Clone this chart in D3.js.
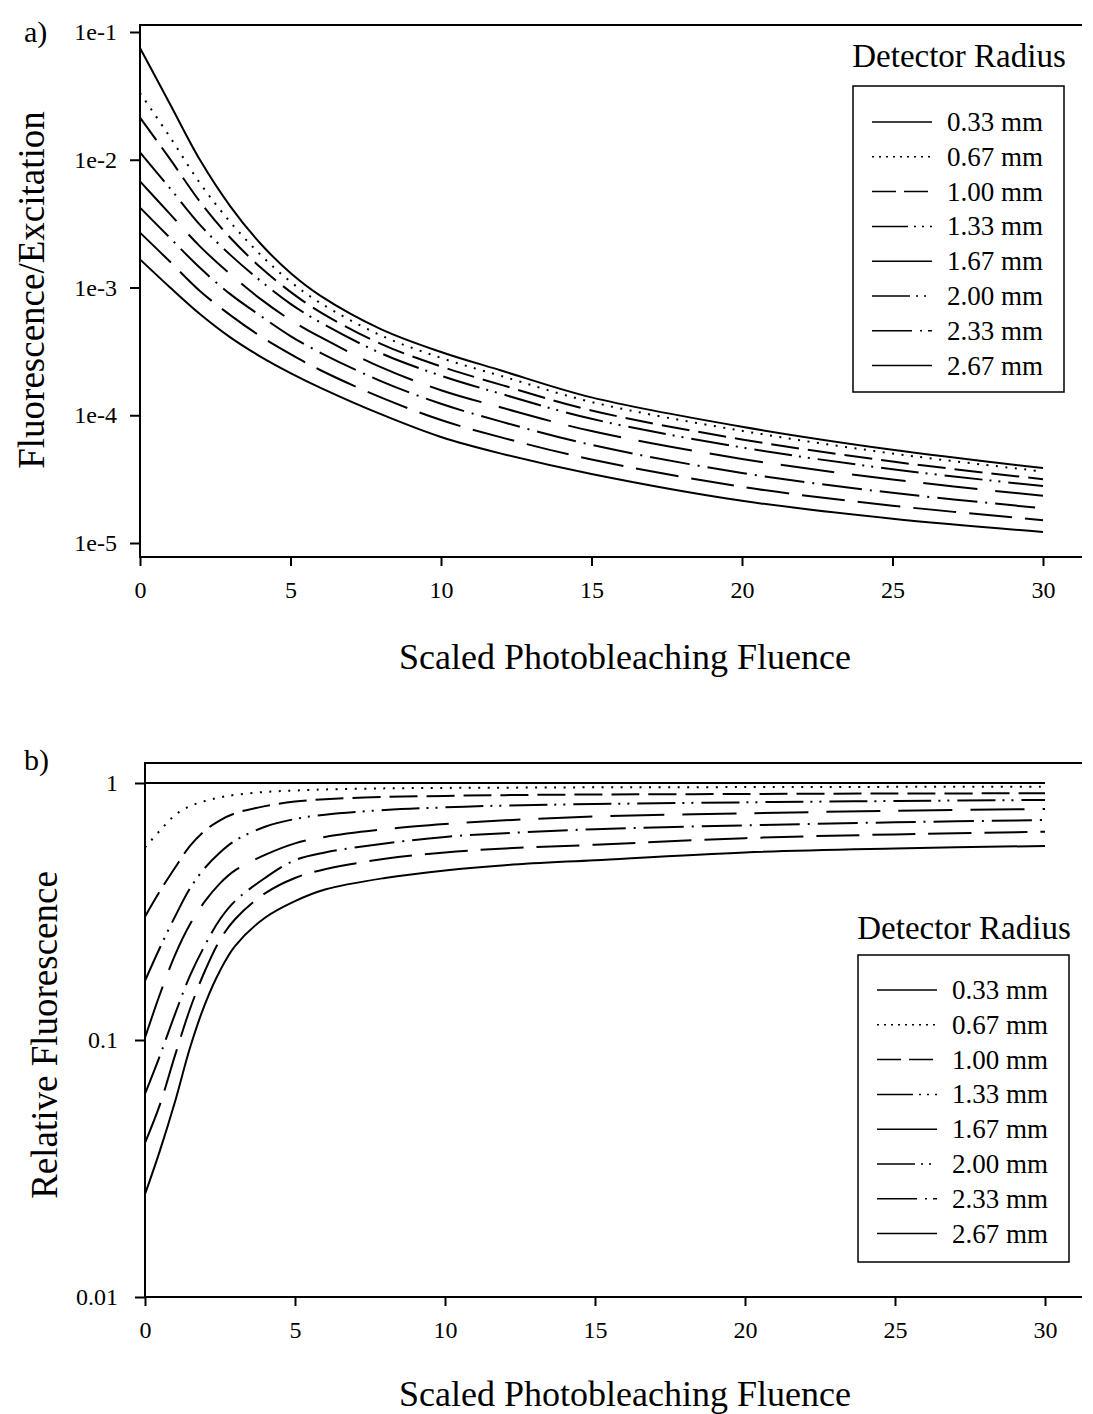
<!DOCTYPE html>
<meta charset="utf-8">
<head>
    <title>Detector Radius - Fluorescence vs Photobleaching Fluence</title>
    <style>
        body { margin: 0; background: #fff; }
        text { font-family: "Liberation Serif", "Times New Roman", serif; fill: #000; }
        .axis path { display: none; }
        .axis line { stroke: #000; stroke-width: 2; }
        .axis text { font-size: 24px; font-family: "Liberation Serif", "Times New Roman", serif; }
    </style>
</head>
<body>
<script src="https://d3js.org/d3.v7.min.js"></script>
<svg id="chart"></svg>
<script>
    // scaled photobleaching fluence where values were read
    var fluenceA = [0, 1, 2, 3, 4, 5, 6, 8, 10, 12, 15, 20, 25, 30];
    var fluenceB = [0, 0.5, 1, 1.5, 2, 2.5, 3, 4, 5, 6, 8, 10, 12, 15, 20, 25, 30];
    var radii = ["0.33 mm", "0.67 mm", "1.00 mm", "1.33 mm", "1.67 mm", "2.00 mm", "2.33 mm", "2.67 mm"];

    // a) fluorescence / excitation
    var fe033 = [0.0750, 0.0272, 0.00989, 0.00432, 0.00221, 0.00130, 0.000861, 0.000473, 0.000313, 0.000224, 0.000138, 0.0000813, 0.0000537, 0.0000386];
    var fe067 = [0.0333, 0.0150, 0.00652, 0.00325, 0.00181, 0.00111, 0.000754, 0.000422, 0.000281, 0.000203, 0.000127, 0.0000755, 0.0000502, 0.0000363];
    var fe100 = [0.0214, 0.0101, 0.00467, 0.00245, 0.00144, 0.000925, 0.000639, 0.000362, 0.000241, 0.000173, 0.000109, 0.0000647, 0.0000434, 0.0000316];
    var fe133 = [0.0114, 0.00596, 0.00308, 0.00180, 0.00113, 0.000745, 0.000532, 0.000306, 0.000204, 0.000147, 0.0000938, 0.0000560, 0.0000378, 0.0000279];
    var fe167 = [0.00678, 0.00375, 0.00209, 0.00127, 0.000815, 0.000557, 0.000408, 0.000238, 0.000157, 0.000115, 0.0000752, 0.0000455, 0.0000314, 0.0000234];
    var fe200 = [0.00422, 0.00244, 0.00142, 0.000887, 0.000601, 0.000417, 0.000308, 0.000185, 0.000123, 0.0000891, 0.0000586, 0.0000353, 0.0000247, 0.0000187];
    var fe233 = [0.00269, 0.00159, 0.000935, 0.000608, 0.000416, 0.000301, 0.000225, 0.000138, 0.0000918, 0.0000671, 0.0000451, 0.0000275, 0.0000196, 0.0000151];
    var fe267 = [0.00166, 0.00100, 0.000617, 0.000407, 0.000288, 0.000214, 0.000164, 0.000102, 0.0000676, 0.0000501, 0.0000347, 0.0000214, 0.0000155, 0.0000122];

    // b) relative fluorescence
    var rf033 = [1, 1, 1, 1, 1, 1, 1, 1, 1, 1, 1, 1, 1, 1, 1, 1, 1];
    var rf067 = [0.562, 0.653, 0.750, 0.813, 0.851, 0.879, 0.899, 0.923, 0.935, 0.944, 0.953, 0.957, 0.959, 0.962, 0.964, 0.966, 0.968];
    var rf100 = [0.302, 0.380, 0.468, 0.569, 0.653, 0.716, 0.762, 0.813, 0.847, 0.865, 0.883, 0.891, 0.897, 0.902, 0.906, 0.910, 0.912];
    var rf133 = [0.170, 0.229, 0.302, 0.389, 0.468, 0.537, 0.596, 0.676, 0.724, 0.753, 0.785, 0.804, 0.817, 0.828, 0.841, 0.851, 0.859];
    var rf167 = [0.102, 0.151, 0.214, 0.282, 0.347, 0.407, 0.457, 0.525, 0.582, 0.617, 0.661, 0.692, 0.716, 0.741, 0.762, 0.780, 0.792];
    var rf200 = [0.0617, 0.0871, 0.126, 0.178, 0.234, 0.295, 0.347, 0.427, 0.501, 0.537, 0.582, 0.617, 0.638, 0.661, 0.684, 0.703, 0.718];
    var rf233 = [0.0398, 0.0562, 0.0871, 0.132, 0.186, 0.245, 0.295, 0.372, 0.427, 0.462, 0.507, 0.537, 0.556, 0.575, 0.610, 0.631, 0.646];
    var rf267 = [0.0251, 0.0372, 0.0575, 0.0933, 0.138, 0.186, 0.232, 0.299, 0.347, 0.385, 0.427, 0.457, 0.479, 0.501, 0.537, 0.556, 0.569];

    var xTicks = [0, 5, 10, 15, 20, 25, 30];

    // line style per radius
    var dashes = [null, "2,7.5", "28,9", "38,7,2,7,2,8", "54,18", "40,8,2,8", "43,13", null];
    var legendDashes = [null, "2,5", "24,8", "36,6,2,6,2,6", null, "38,6,2,6,2,6", "40,8,2,6", null];

    var svg = d3.select("#chart").attr("width", 1093).attr("height", 1414);

    function drawPanel(p) {
        var g = svg.append("g");
        var x = d3.scaleLinear().domain([0, 30]).range(p.xr);
        var y = d3.scaleLog().domain(p.yd).range(p.yr);

        // frame: top, left, bottom
        g.append("path")
            .attr("d", "M" + p.right + "," + p.top + "H" + p.xr[0] + "V" + p.bottom + "H" + p.right)
            .attr("fill", "none").attr("stroke", "#000").attr("stroke-width", 2);

        g.append("g").attr("class", "axis")
            .attr("transform", "translate(" + p.xr[0] + ",0)")
            .call(d3.axisLeft(y).tickValues(p.yTicks).tickFormat(p.yFmt).tickSize(10).tickPadding(p.yPad));

        g.append("g").attr("class", "axis")
            .attr("transform", "translate(0," + p.bottom + ")")
            .call(d3.axisBottom(x).tickValues(xTicks).tickFormat(d3.format("d")).tickSize(9).tickPadding(15));

        var line = d3.line()
            .x(function(d) { return x(d[0]); })
            .y(function(d) { return y(d[1]); })
            .curve(d3.curveCatmullRom.alpha(0.5));

        p.series.forEach(function(vals, i) {
            var pts = p.fluence.map(function(f, j) { return [f, vals[j]]; });
            g.append("path")
                .datum(pts)
                .attr("d", line)
                .attr("fill", "none")
                .attr("stroke", "#000")
                .attr("stroke-width", 2)
                .attr("stroke-dasharray", dashes[i]);
        });

        // titles
        g.append("text")
            .attr("x", 625).attr("y", p.xTitleY)
            .attr("text-anchor", "middle").style("font-size", "36px")
            .text("Scaled Photobleaching Fluence");
        g.append("text")
            .attr("transform", "translate(" + p.yTitleX + "," + p.yTitleY + ") rotate(-90)")
            .attr("text-anchor", "middle").style("font-size", "37px")
            .text(p.yTitle);
        g.append("text")
            .attr("x", 24).attr("y", p.tagY)
            .style("font-size", "30px")
            .text(p.tag);

        // legend
        g.append("text")
            .attr("x", p.legX + 106).attr("y", p.legTitleY)
            .attr("text-anchor", "middle").style("font-size", "33px")
            .text("Detector Radius");
        g.append("rect")
            .attr("x", p.legX).attr("y", p.boxTop).attr("width", 211).attr("height", p.boxH)
            .attr("fill", "none").attr("stroke", "#000").attr("stroke-width", 1.5);
        radii.forEach(function(r, i) {
            var yy = p.rowY + i * 34.8;
            g.append("line")
                .attr("x1", p.legX + 19).attr("x2", p.legX + 79).attr("y1", yy).attr("y2", yy)
                .attr("stroke", "#000").attr("stroke-width", 1.5)
                .attr("stroke-dasharray", legendDashes[i]);
            g.append("text")
                .attr("x", p.legX + 94).attr("y", yy + 9)
                .style("font-size", "27px")
                .text(r);
        });
    }

    drawPanel({
        xr: [140, 1043], right: 1082, top: 25, bottom: 557,
        yd: [1e-5, 1e-1], yr: [543, 32],
        yTicks: [1e-1, 1e-2, 1e-3, 1e-4, 1e-5],
        yFmt: function(d) { return "1e" + Math.round(Math.log10(d)); },
        yPad: 13,
        fluence: fluenceA,
        series: [fe033, fe067, fe100, fe133, fe167, fe200, fe233, fe267],
        xTitleY: 669, yTitleX: 44, yTitleY: 290, yTitle: "Fluorescence/Excitation",
        tag: "a)", tagY: 42,
        legX: 853, legTitleY: 67, boxTop: 86, boxH: 306, rowY: 122
    });

    drawPanel({
        xr: [145, 1045], right: 1082, top: 763, bottom: 1297,
        yd: [0.01, 1], yr: [1297, 783],
        yTicks: [1, 0.1, 0.01],
        yFmt: function(d) { return d == 1 ? "1" : String(d); },
        yPad: 17,
        fluence: fluenceB,
        series: [rf033, rf067, rf100, rf133, rf167, rf200, rf233, rf267],
        xTitleY: 1406, yTitleX: 57, yTitleY: 1035, yTitle: "Relative Fluorescence",
        tag: "b)", tagY: 770,
        legX: 858, legTitleY: 939, boxTop: 955, boxH: 307, rowY: 990
    });
</script>
</body>
</html>
